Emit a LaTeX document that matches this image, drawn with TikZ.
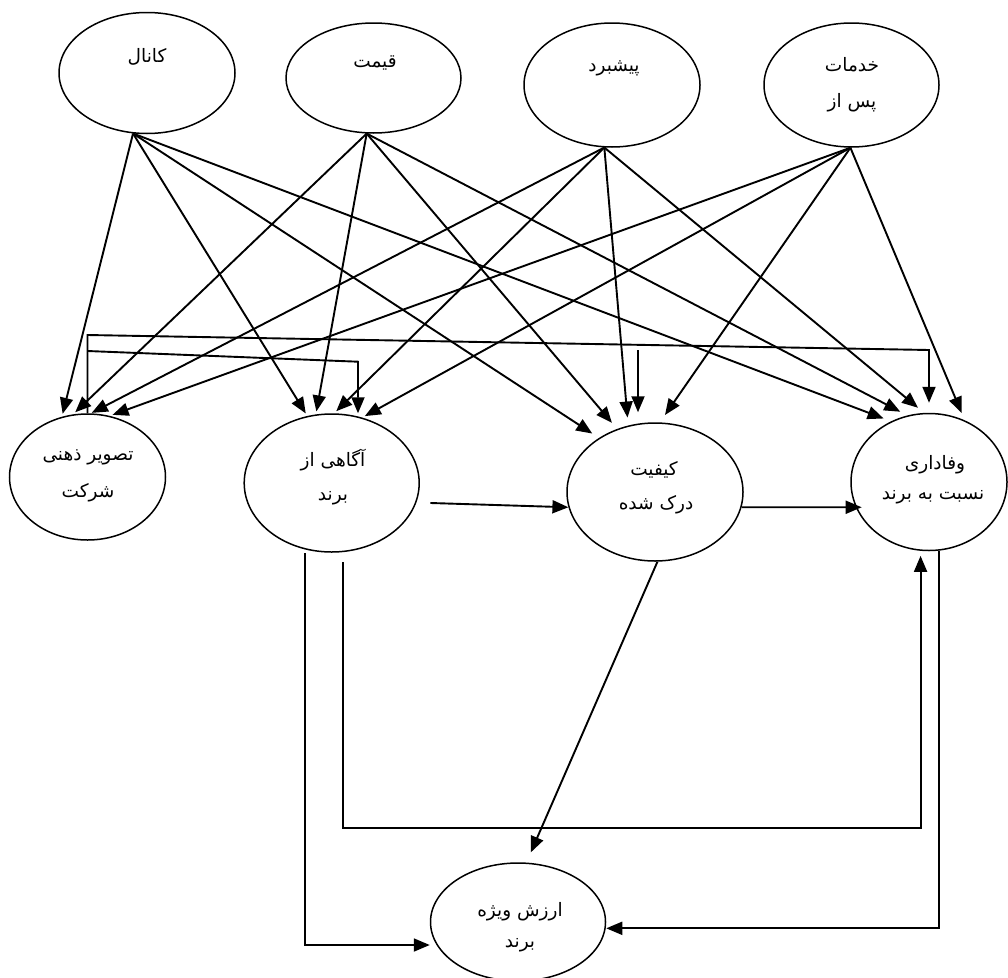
\documentclass[tikz,border=0pt]{standalone}
\usepackage{fontspec}
\newfontfamily\fa[Script=Arabic]{DejaVu Sans}
\TeXXeTstate=1
\usetikzlibrary{arrows.meta,calc,shapes.geometric}
\begin{document}
\begin{tikzpicture}[x=1pt,y=-1pt,
  ell/.style={draw,ellipse,line width=1.5pt,inner sep=0pt},
  lbl/.style={font=\fa\fontsize{18.5}{20}\selectfont,inner sep=0pt},
  arr/.style={line width=1.9pt,-{Triangle[length=16pt,width=13pt]}}]
\useasboundingbox (0,0) rectangle (1008,977);
% top row
\node[ell,minimum width=176pt,minimum height=121pt] (kanal) at (147,73) {};
\node[ell,minimum width=175pt,minimum height=110pt] (qeymat) at (373.5,78) {};
\node[ell,minimum width=176pt,minimum height=124pt] (pishbord) at (612,85) {};
\node[ell,minimum width=175pt,minimum height=124pt] (khadamat) at (851.5,85) {};
% middle row
\node[ell,minimum width=156pt,minimum height=126pt] (tasvir) at (87.5,477) {};
\node[ell,minimum width=175pt,minimum height=138pt] (agahi) at (331.7,483) {};
\node[ell,minimum width=176pt,minimum height=138pt] (kef) at (655,492) {};
\node[ell,minimum width=156pt,minimum height=137pt] (vaf) at (929,482) {};
% bottom
\node[ell,minimum width=175pt,minimum height=118pt] (arz) at (518,922) {};
% labels
\node[lbl] (kanalT) at (147,57) {\beginR کانال\endR};
\node[lbl] (qeymatT) at (375,63) {\beginR قیمت\endR};
\node[lbl] (pishbordT) at (614,68) {\beginR پیشبرد\endR};
\node[lbl] (khadamatT1) at (852,65) {\beginR خدمات\endR};
\node[lbl] (khadamatT2) at (852,103) {\beginR پس از\endR};
\node[lbl] (tasvirT1) at (88,457) {\beginR تصویر ذهنی\endR};
\node[lbl] (tasvirT2) at (88,493) {\beginR شرکت\endR};
\node[lbl] (agahiT1) at (333,460) {\beginR آگاهی از\endR};
\node[lbl] (agahiT2) at (333,498) {\beginR برند\endR};
\node[lbl] (kefT1) at (654,470) {\beginR کیفیت\endR};
\node[lbl] (kefT2) at (656,505) {\beginR درک شده\endR};
\node[lbl] (vafT1) at (935,465) {\beginR وفاداری\endR};
\node[lbl] (vafT2) at (933,497) {\beginR نسبت به برند\endR};
\node[lbl] (arzT1) at (520,912) {\beginR ارزش ویژه\endR};
\node[lbl] (arzT2) at (520,945) {\beginR برند\endR};
% from kanal
\draw[arr,shorten >=3pt] (kanal.257.8) -- (tasvir.113.3);
\draw[arr,shorten >=3pt] (kanal.257.8) -- (agahi.110.9);
\draw[arr,shorten >=8pt] (kanal.257.8) -- (kef.136.4);
\draw[arr,shorten >=8pt] (kanal.257.8) -- (vaf.122);
% from qeymat
\draw[arr,shorten >=3pt] (qeymat.263.3) -- (tasvir.103.6);
\draw[arr,shorten >=3pt] (qeymat.263.3) -- (agahi.103.4);
\draw[arr,shorten >=8pt] (qeymat.263.3) -- (kef.121.3);
\draw[arr,shorten >=8pt] (qeymat.263.3) -- (vaf.108.7);
% from pishbord
\draw[arr,shorten >=1pt] (pishbord.263.6) -- (tasvir.87.7);
\draw[arr,shorten >=3pt] (pishbord.263.6) -- (agahi.88.9);
\draw[arr,shorten >=8pt] (pishbord.263.6) -- (kef.112.1);
\draw[arr,shorten >=8pt] (pishbord.263.6) -- (vaf.94.3);
% from khadamat
\draw[arr,shorten >=3pt] (khadamat.269.5) -- (tasvir.70.6);
\draw[arr,shorten >=3pt] (khadamat.269.5) -- (agahi.65.9);
\draw[arr,shorten >=9pt] (khadamat.269.5) -- (kef.86);
\draw[arr,shorten >=8pt] (khadamat.269.5) -- (vaf.60.9);
% feedback from tasvir
\coordinate (fa1) at (87.5,335);
\coordinate (fa2) at (929,350);
\draw[arr,shorten >=10pt] (tasvir.north) -- (fa1) -- (fa2) -- (fa2 |- vaf.north);
\coordinate (fb1) at (87.5,351);
\coordinate (fb2) at (358,361.7);
\draw[arr] (fb1) -- (fb2) -- (fb2 |- agahi.north);
\coordinate (fc1) at (638,350);
\draw[arr,shorten >=10pt] (fc1) -- (fc1 |- kef.north);
% middle connections
\draw[arr,shorten <=14pt] (agahi.-13.4) -- (kef.190.6);
\draw[arr,shorten >=-6pt] (kef.-10.6) -- (vaf.199.8);
\draw[arr,shorten >=11pt] (kef.272.5) -- (arz.82.9);
% lower feedback
\coordinate (yA) at (0,945);
\draw[arr,shorten <=4pt] (agahi.248.5) -- (agahi.248.5 |- yA) -- ($(arz.west)+(0,23)$);
\coordinate (yB) at (0,827.7);
\draw[arr,shorten <=10pt,shorten >=5pt] (agahi.279.1) -- (agahi.279.1 |- yB) -| (vaf.263.3);
\draw[arr] (vaf.278.6) |- ($(arz.east)+(0,6.3)$);
\end{tikzpicture}
\end{document}
